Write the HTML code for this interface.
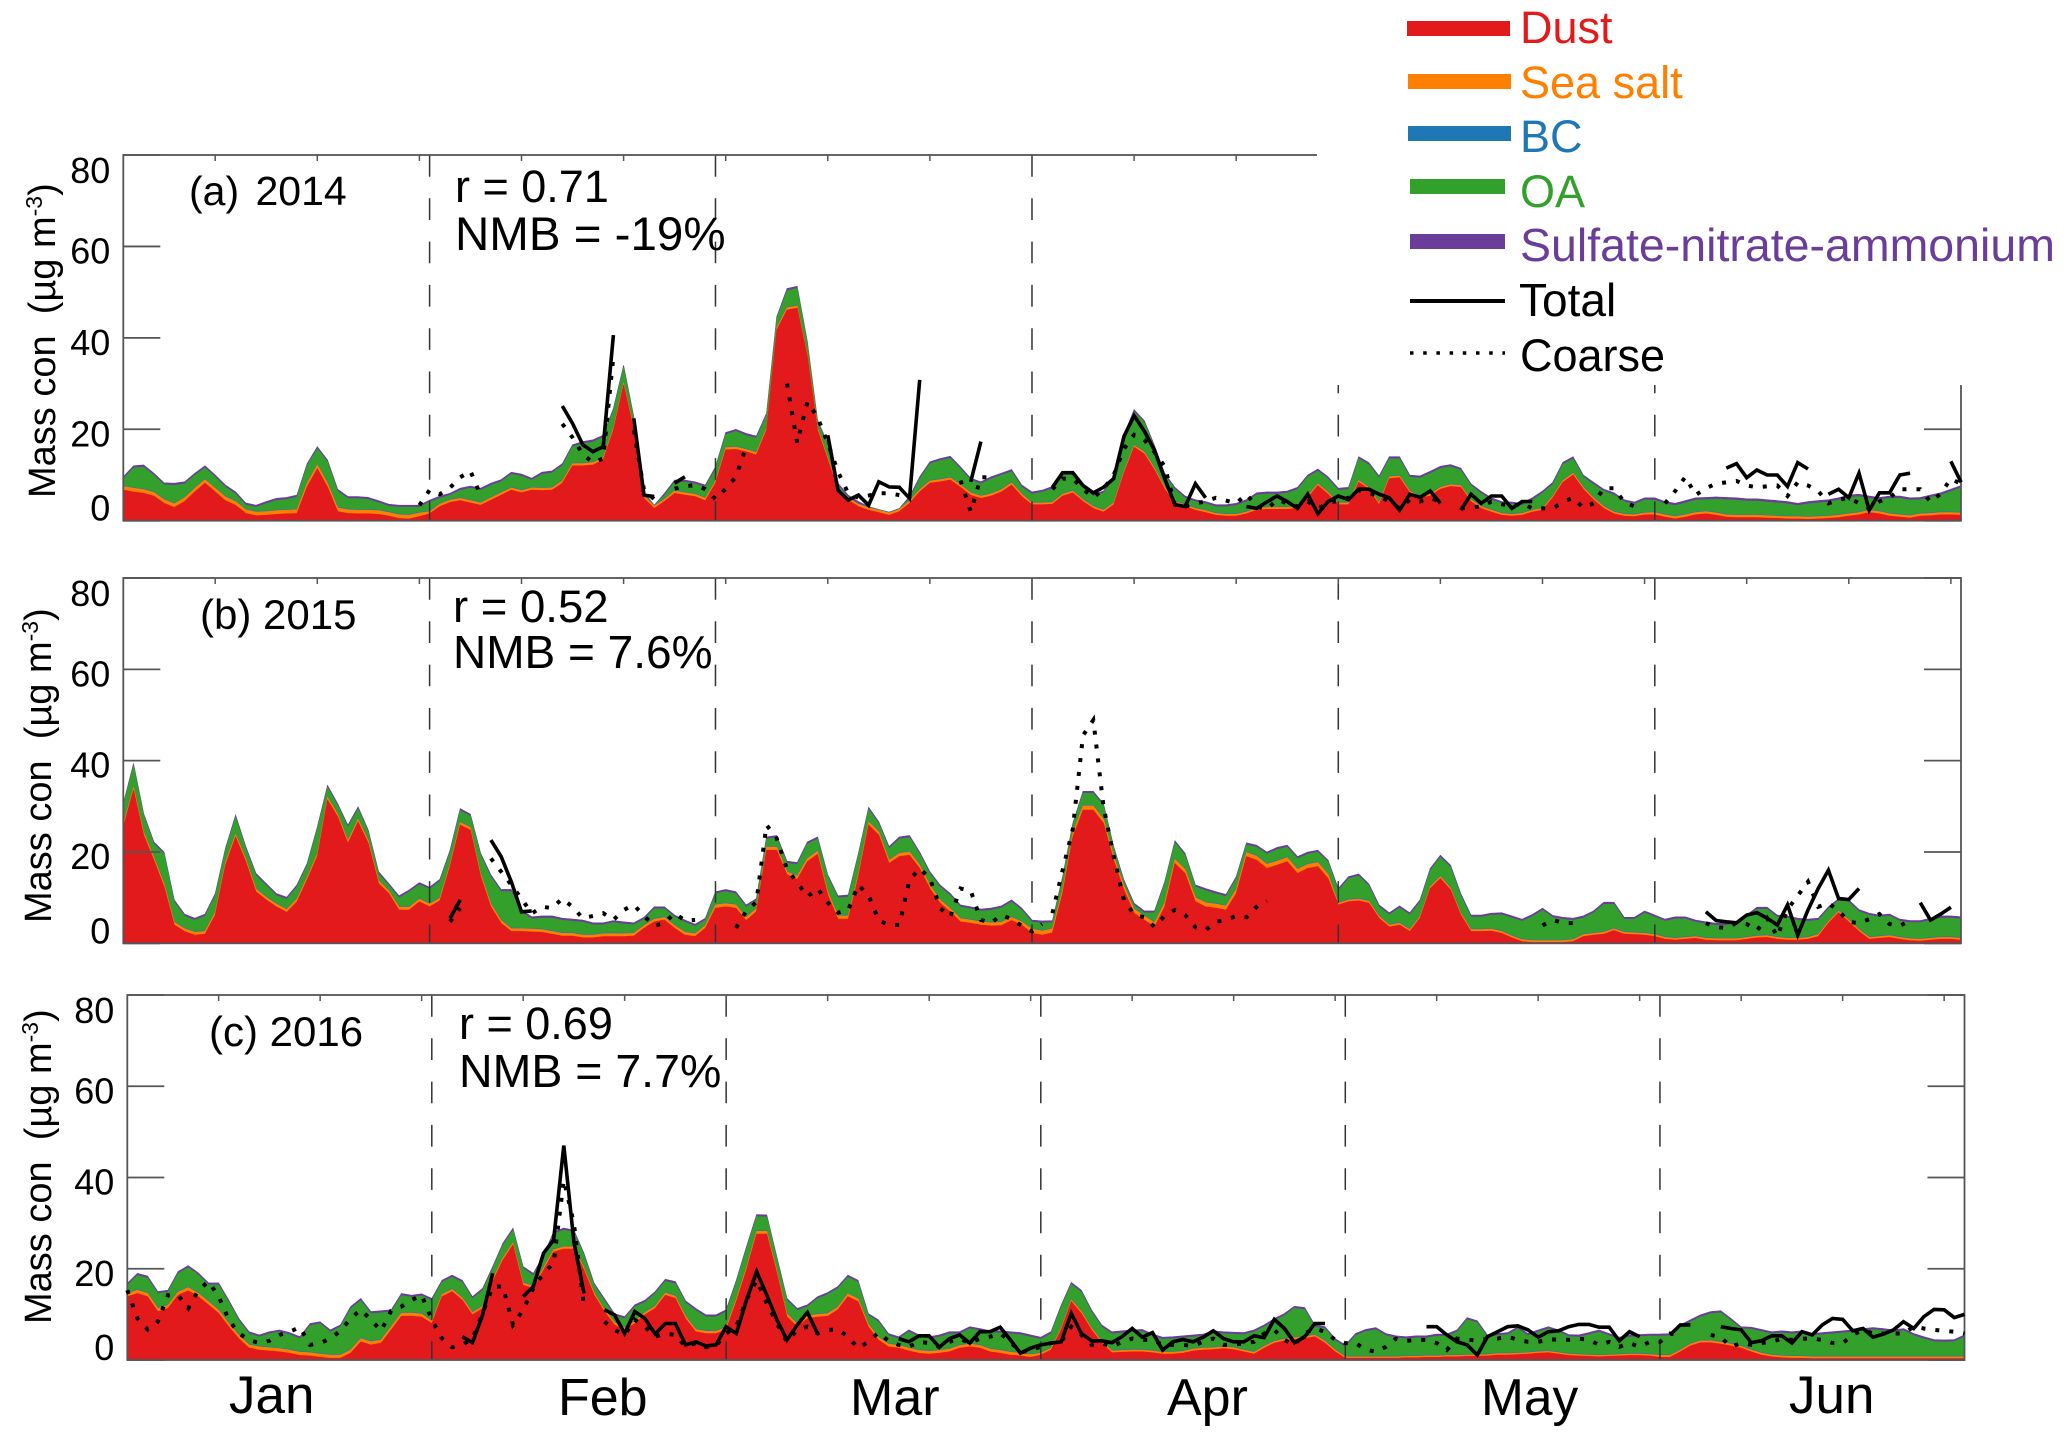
<!DOCTYPE html>
<html lang="en">
<head>
<meta charset="utf-8">
<title>Aerosol mass concentration 2014-2016</title>
<style>
html,body{margin:0;padding:0;background:#fff;}
svg{display:block;}
text{font-family:"Liberation Sans",sans-serif;}
</style>
</head>
<body>
<svg id="chart" xmlns="http://www.w3.org/2000/svg" width="2067" height="1439" viewBox="0 0 2067 1439">
<rect width="2067" height="1439" fill="#fff"/>
<g id="panels"></g>

<g>
<rect x="1317" y="135" width="660" height="250" fill="#fff"/>
<rect x="1407" y="21" width="103" height="15" fill="#e31a1c"/>
<text x="1520" y="43" font-size="45" fill="#e31a1c">Dust</text>
<rect x="1408" y="74" width="103" height="15" fill="#ff7f00"/>
<text x="1520" y="98" font-size="45" fill="#ff7f00">Sea salt</text>
<rect x="1408" y="126" width="103" height="15" fill="#1f78b4"/>
<text x="1520" y="152" font-size="45" fill="#1f78b4">BC</text>
<rect x="1410" y="179" width="95" height="15" fill="#33a02c"/>
<text x="1520" y="207" font-size="45" fill="#33a02c">OA</text>
<rect x="1410" y="234" width="95" height="15" fill="#6a3d9a"/>
<text x="1520" y="261" font-size="46.5" fill="#6a3d9a">Sulfate-nitrate-ammonium</text>
<line x1="1410" x2="1505" y1="301" y2="301" stroke="#000" stroke-width="4"/>
<text x="1519" y="316" font-size="46" fill="#000">Total</text>
<line x1="1410" x2="1505" y1="353" y2="353" stroke="#000" stroke-width="3.5" stroke-dasharray="3.5 9.7"/>
<text x="1520" y="371" font-size="45" fill="#000">Coarse</text>
</g>

<g fill="#000">
<text x="189" y="205" font-size="41">(a)  <tspan dx="5">2014</tspan></text>
<text x="455" y="202" font-size="45">r = 0.71</text>
<text x="455" y="250" font-size="47.5">NMB = -19%</text>
<text x="200" y="629" font-size="42">(b) 2015</text>
<text x="453" y="622" font-size="45.5">r = 0.52</text>
<text x="453" y="668" font-size="46">NMB = 7.6%</text>
<text x="209" y="1046" font-size="42">(c) 2016</text>
<text x="459" y="1039" font-size="45">r = 0.69</text>
<text x="459" y="1087" font-size="46.5">NMB = 7.7%</text>
<text transform="translate(55,498) rotate(-90)" font-size="38" xml:space="preserve">Mass con  (µg m<tspan dy="-13" font-size="23">-3</tspan><tspan dy="13">)</tspan></text>
<text transform="translate(51,923) rotate(-90)" font-size="38" xml:space="preserve">Mass con  (µg m<tspan dy="-13" font-size="23">-3</tspan><tspan dy="13">)</tspan></text>
<text transform="translate(51,1324) rotate(-90)" font-size="38" xml:space="preserve">Mass con  (µg m<tspan dy="-13" font-size="23">-3</tspan><tspan dy="13">)</tspan></text>
<text x="229" y="1413" font-size="53">Jan</text>
<text x="558" y="1415" font-size="52">Feb</text>
<text x="850" y="1415" font-size="52">Mar</text>
<text x="1167" y="1415" font-size="52">Apr</text>
<text x="1481" y="1415" font-size="51.5">May</text>
<text x="1789" y="1413" font-size="53">Jun</text>
</g>
</svg>

<script>
// ---------- shared axis data ----------
const yTickValues = [0, 20, 40, 60, 80];
const yTickLabels = ['0', '20', '40', '60', '80'];
const monthStartDays2014 = [0, 30, 58, 89, 119, 150, 180];
const monthStartDays2015 = [0, 30, 58, 89, 119, 150, 180];
const monthStartDays2016 = [0, 30, 59, 90, 120, 151, 181];
const topTickDays = [9, 19, 29, 39, 49, 59, 69, 79, 89, 99, 109, 119, 129, 139, 149, 159, 169, 179];

// ---------- panel (a) 2014 ----------
const dust2014 = [6.7,6.3,6,5.4,3.8,2.9,4.2,6.3,8.2,6.3,4.4,3.4,1.6,1.1,1.2,1.4,1.5,1.6,7.4,11.4,7.4,2,1.6,1.5,1.5,1.4,1,.5,.4,.9,1.5,
3.1,4,4.4,3.9,3.4,4.5,5.6,6.7,6.1,6.7,6.6,6.7,8.2,12,12,12.2,13.3,19.8,29.7,19.8,4.9,2.7,4.2,6,5.6,5.3,4.4,8.2,15.5,15.6,15.1,14.4,19.8,41.7,46.1,46.5,35.9,19.8,13.3,6.7,4.5,3.1,2.3,1.8,1.2,2,3.8,6.3,8.2,8.5,8.9,7.3,5.6,4.9,5.4,6.3,7.8,5.3,
3.5,3.5,3.6,5.4,6.1,4.2,2.7,1.9,3.5,10.4,16.1,14.6,11.1,6.9,3.8,3.1,2.3,1.8,1.2,1,1,1.5,2.3,2.5,2.5,2.5,2.7,5,7.7,5.8,3.5,3.5,8.4,6.9,3.5,9.2,9.4,6.1,5,5.4,6.9,7.5,7.3,4.2,2.7,1.9,1.2,1,1.2,1.9,2.3,5,8.4,10,6.9,4.6,2.7,1.5,1,.9,1.3,1.3,.8,.4,.8,1.3,1.5,1.2,.8,.7,.7,.7,.6,.5,.4,.4,.3,.4,.5,.7,1,1.3,1.8,1.5,1,.8,.6,1,1.1,1.3,1.3,1.2];
const stackTotal2014 = [9.6,12,12.2,10.4,8.3,8.2,8.5,10.4,12,10,7.8,6.3,3.9,3.4,4.2,4.9,5.1,5.6,12.5,16.2,13.3,6.9,5.3,5.3,5.1,4.4,3.6,3.4,3.4,3.4,4.5,
5.4,6,7.1,7.6,7.1,8.2,9,10.6,10.2,9.3,10.6,10.9,12.5,16.6,17.3,17.7,18.7,24.6,34,22.8,6.3,3.4,6,8.9,8.9,8.5,7.8,11.8,19.3,20,19.1,18.5,23.5,44.6,50.8,51.3,39.2,22,16.9,8.2,5.6,4.2,3.1,2.2,1.8,2.7,5.3,9.6,12.9,13.6,14.1,11.8,9.3,8.5,9.6,10.4,11.2,7.8,
6.3,6.7,7.5,10.5,10.5,7.7,5.8,6.5,9.6,18.8,24.3,21.9,16.5,10.4,7.3,5.4,4.6,4.2,3.5,3.5,3.8,4.6,6.1,6.3,6.3,6.5,7.3,10,11.3,9.6,7.1,7.3,14,12.7,9.8,14,14,10,9.8,10.8,11.9,12.3,11.5,8.1,6.4,5,4.2,4.1,3.8,5,6.5,8.4,12.8,14,10,8.4,6.9,6.1,4.6,4.1,5,5,4.2,3.8,4.4,5,5.1,5.2,5.1,5,4.8,4.8,4.6,4.4,4.2,3.8,4.2,4.4,4.6,5,5.6,5.8,5.4,5.1,5.4,5.4,5,5.1,5.6,6.1,6.9,7.7];
const seaSaltByMonth2014 = [0.8, 0.5, 0.5, 0.4, 0.4, 0.5];
const bcByMonth2014 = [0.15, 0.15, 0.15, 0.15, 0.15, 0.15];
const snaByMonth2014 = [0.45, 0.45, 0.45, 0.45, 0.45, 0.5];
const observedTotalRuns2014 = [
  [43,[25.1,21.3,16.6,15.1,16.2,40.6]],
  [50,[22.4,5.6,5.3]],
  [54,[8.2,9.6]],
  [69,[18.7,6.7,4.5,5.6,3.4,8.5,7.4,7.3,4.9,30.8]],
  [83,[8.5,17.3]],
  [91,[7.3,10.5,10.5,7.7,6.1,7.3,9.2,18.4,23,19.6,15.4,9.2,3.5,3.1,8.1,5]],
  [110,[3.1,2.7,4.1,5.4,4.2,2.7,5.8,1.5,4.2,5.4,4.6,6.9,6.9,5.8,5,2.3,5.8,5.1,6.5,3.8]],
  [131,[2.3,5.8,3.8,5.4,5.4,2.7,4.2,4.2]],
  [157,[11.5,12.5,9.4,11.1,10,10,7.5,12.7,11.3]],
  [167,[5.8,6.9,5,10.4,2.3,6.1,6.1,10,10.4]],
  [179,[13,8.4]]
];
const observedCoarseRuns2014 = [
  [29,[3.4,6.7,5.8,7.2,9.5,10.9,5.5]],
  [43,[21.2,18.2,14.5,12.7,13.6,36]],
  [50,[19.8,6.7,4.7]],
  [54,[7,7.5,7.8,6.9,4.7,7,9.6,16.2]],
  [65,[30,17,26,22.6,17,10.7,6,5,5.5,6,6,5.6]],
  [82,[8.8,2,9.5,9.5]],
  [91,[6.9,9.2,9.2,6.9,5.1,6.9,10,15.7,18.8,17.7,15,11.9,3.5,3.1,3.8,4.2,5,4.4,3.8,5.8,3.1,2.5,4.6,3.8,3.1,4.2,2.7,3.8,4.4,5,6.7,6,5.4,4.2,2.7,4.6,4.2,5,4.1]],
  [131,[2.7,2.9,3.1,4.2,3.6,3.1,3.8,2.7,2.7,2.7,4.1,5,2.8,3.8,7.1,7.1,4.1,3.1]],
  [151,[3.8,6.5,9.6,5.6,7.1,8.1,8.4,8.7,7.7,7.3,7.5,7.7,5.4,8.4,7.7,6.5,3.8,4.6,5,3.8,2.7,4.2,5,6.9,6.9,6.9,4.1,5.9,9.2,8]]
];

// ---------- panel (b) 2015 ----------
const dust2015 = [25.5,33.6,23.7,18.2,12.4,4,2.6,1.8,2,6.2,17.1,23.3,17.9,11.3,9.5,8,6.8,9.1,13.9,19,31.4,27.7,21.9,26.6,21.9,13.1,10.9,7.3,7.3,9.1,8,
9.3,16.8,25.9,24.8,14.6,8,4.4,2.6,2.6,2.5,2.4,2,1.6,1.6,1.2,1.2,1.5,1.5,1.5,1.6,3.3,4.7,5.1,3.3,1.8,1.5,3.3,7.7,8,7.7,5,6.9,20.4,20.4,15,14,17.9,19.5,10.6,5.3,5.3,14.6,25.9,23.7,17.5,19,19.3,16.4,12,8.8,6.9,4.7,4.4,4,3.8,3.9,5,4,
2.2,1.8,2.3,10.9,23.3,29.2,29.2,26.3,18.2,11.7,6.6,5.1,3.6,8,17.5,15.3,9.1,8,7.7,7.3,10.9,19,18.2,16.4,17.1,17.9,15.3,16.4,16.8,14.2,8.4,9.1,9.3,8.8,5.5,3.6,4,2.6,5.5,12,14.2,11.7,6.2,2.6,2.6,2.7,2.2,1.2,.4,.2,.2,.2,.2,.4,1.5,1.8,2,2.8,2,1.9,1.8,1.5,.9,.7,.9,1.1,.7,.6,.6,.6,.9,1.2,1.3,.9,.7,.7,.9,1.5,4.4,6.7,4.7,2.6,.9,1.1,1.3,.9,.6,.5,.7,.9,.9,.7];
const stackTotal2015 = [30.6,39.4,28.4,22.2,20,9.5,6.4,5.5,6.4,10.9,20.8,28.1,21.2,15.3,13.1,10.9,10.1,12.8,17.5,25.5,34.6,30.6,25.9,29.9,24.8,15.7,13.1,10.4,11.7,13.3,12.3,
14,20.4,29.5,28.3,19.7,15,11.8,11.8,7.3,5.8,6,6,5.5,5.3,5.1,4.5,4.5,5,4.7,4.5,5.7,8,8,6.2,5.1,4.2,5.5,11.3,11.8,11.3,8.4,9.8,23.3,23.6,18,17.7,22.2,23.3,15,10.4,10.6,19.7,29.8,26.6,21.2,23.3,23.6,20,15.7,12.8,10.9,8.4,8,7.5,7.7,8.2,9.5,7.7,
5.1,4.9,5,14.6,26.3,33.3,33.3,30.6,21.2,13.9,8.8,7.1,7.1,13.5,22.5,19.7,12.8,12,11.3,10.7,14.6,22,21.5,20,21,21.5,19,20,20.4,18.2,12,14.6,15.2,13,8.4,6.7,8.2,6.7,9.5,16.4,19.3,17.1,10.9,6.2,6.2,6.6,6.7,6,5.3,6.3,7.7,6.1,5.7,5.5,6,7.1,9,9,5.7,5.7,7.1,6.2,5.3,5.8,5.8,5.1,4.7,4.4,4.4,4.7,6.2,7.9,7.9,6.2,6,5.5,5.3,5.5,8,9.8,9.5,7.4,6.6,6.2,6.4,5.3,5,5,5.5,6,6,5.8];
const seaSaltByMonth2015 = [0.6, 0.6, 0.7, 0.9, 0.4, 0.4];
const bcByMonth2015 = [0.15, 0.15, 0.15, 0.15, 0.15, 0.15];
const snaByMonth2015 = [0.45, 0.45, 0.45, 0.45, 0.45, 0.45];
const observedTotalRuns2015 = [
  [32,[5.5,9.5]],
  [36,[22.6,19,13.5,6.9,7.1]],
  [155,[6.9,5,4.7,4.5,6.2,6.7,5.5,4,8.4,1.8,7.3,12,16,9.8,9.6,12]],
  [176,[8.9,5.1,6.4,7.9]]
];
const observedCoarseRuns2015 = [
  [32,[4.7,7.7]],
  [36,[18.6,15.7,12.8,9.8,6.5,8,7.7,9.8,8,5.5,6,6.6,5.1,7.3,8.4,6,3.8,4.5,6.6,5,5.1]],
  [60,[3.4,7,9,25.9,23,16.2,13.3,10.2,12,8.9,6.7,7.3,12.8,10.4,5,4,4,13.9,16.4,14.2,7.7,5.8,12,11.5,5.1,4.5,6.2,5.3,3.8,2.6,4.2]],
  [91,[6.6,16,25,45.5,48.9,30,19,9.5,6.3,5.7,3.6,6,7.3,6.2,3.5,2.9,4.7,5.1,6,5.7,8,9.3]],
  [139,[3.9,5.1,4.5,4.4]],
  [155,[4.4,3.6,3.3,4.5,4.2,2.8,5.5,1.5,7.4,10.4,13.5,8,8.8,7.1,4.7,4.4,5.3,6.4,4.2,3.8,5]]
];

// ---------- panel (c) 2016 ----------
const dust2016 = [13.9,14.6,13.9,10.6,11.3,14.2,15.2,13.9,12.1,10.2,7.3,4.7,2.6,2.2,2,1.8,1.5,1,.9,.6,.4,.4,1.5,4,3.3,3.7,6.6,9.6,9.6,9.4,8,
13.9,15,13.1,9.9,11.3,17.2,21.9,25.2,16.4,15.7,19.7,23.7,24.3,24.3,19.7,14.2,10.6,7.7,6.6,8,9.9,11.3,14.2,13.5,9.1,6.2,5.8,5.8,6.6,12.8,19.7,27.6,27.6,19,9.5,7.3,9.1,9.4,9.6,11,13.9,12.8,7.3,4.4,2.9,2.6,2,1.5,1.3,1.5,1.8,2.6,2.9,2.6,1.8,1.5,1.1,.9,.6,
1.1,2.2,6.6,12.8,10.2,6.6,3.7,1.6,1.7,1.8,1.8,1.6,1.3,1.3,1.5,2,2.2,2.3,2.5,2.3,1.8,1.3,2.6,3.7,4.2,4.5,4.7,5.1,3.7,1.8,.4,.4,.4,.4,.4,.4,.5,.5,.6,.6,.7,.7,.8,.8,.9,1.1,1.1,1.2,1.3,1.5,1.6,1.3,1,.9,.8,.7,.8,.9,1,1,.9,.6,.6,1.8,3.1,3.8,3.8,3.5,3.1,2.6,1.8,1.1,.7,.5,.4,.4,.3,.3,.3,.3,.3,.3,.3,.3,.3,.3,.3,.3,.3,.3,.3,.3];
const stackTotal2016 = [16.8,19,18.4,15,15.3,19.4,20.7,19.1,16.9,16.9,13.1,9.1,6.2,5.5,6.2,6.6,6,5.1,8,8.4,6.6,7.7,11.7,13.5,10.6,10.8,11,14.6,14.2,14.5,13.5,
17.5,18.6,17.5,13.9,15.7,20.5,25.6,28.9,20.5,19,23,28.1,28.9,28.5,23.4,16.8,13.5,10.2,9.5,12.1,13.1,15,17.7,17.2,13,11.3,9.9,9.9,11,17.5,24.8,31.9,31.8,22.6,13.5,11.3,12.1,13.9,14.8,16.1,18.6,17.5,10.2,8.8,5.8,5.1,6.6,5.5,5.1,5.5,6.2,6.2,7.3,6.9,6.4,6.4,6.2,6,5.5,
5,6.2,12,17,15.3,11,7.7,6.2,6.4,6.6,6.7,5.7,5,5.1,5.3,5.5,5.7,6.4,6.2,6.1,6,6.6,7.7,9.1,10.2,11.8,11.5,7.7,7.3,4.7,3.3,5.8,6.7,7.1,5.8,5.3,5.1,5.3,5.3,5.7,5.7,6.6,9.3,8.6,5.5,5.8,6,7.3,5.8,6.6,7.3,6.6,5.6,5.5,6,6.6,5.8,5,5.5,5.6,5.7,5.7,5.8,7.7,8.8,9.9,10.6,10.8,9.1,7.3,7.2,6.7,6.2,6.4,6.2,6.4,5.8,6,6.2,6.4,6.6,6.9,7.1,6.9,6.6,6.9,5.8,5.1,4.5,4.4,4.5,5.5];
const seaSaltByMonth2016 = [0.7, 0.5, 0.6, 0.4, 0.3, 0.4];
const bcByMonth2016 = [0.15, 0.15, 0.15, 0.15, 0.15, 0.15];
const snaByMonth2016 = [0.45, 0.45, 0.45, 0.45, 0.45, 0.45];
const observedTotalRuns2016 = [
  [33,[5.1,3.8,9.9,19]],
  [39,[13.9,16.1,23.4,26.3,47,25.9,14.6]],
  [47,[11,9.9,5.8,10.6,9.1,5.7,8,8,3.3,4,3.1,3.3,7.3,5.8,13.1,19.4,14.2,8.8,4.4,7.7,10.4,5.8]],
  [76,[4.7,4,5.3,5.3,2.8,4.7,5.5,3.7,6.2,6.2,7.2,4.4,1.5,2.6,3.3,3.7,4,10.2,5.8,4.2,4.2,3.8,5.1,6.9,5,6,2.2,4,4.5,4,5,6.4,4.7,4,4,5.3,4.9,8.9,6.9,3.8,5.1,8,8]],
  [128,[7.3,7.3,5.5,4,3.3,1.1,5.1,6.2,7.3,7.5,6.6,5,6.2,6.4,7.3,7.8,7.8,7.2,7.2,4.2,6.2,5.1]],
  [152,[5.5,7.7,7.7]],
  [157,[7.3,6.9,6.6,3.8,4.2,5.3,5.3,3.7,6.2,5.5,7.7,9.1,8.9,6.4,6.9,5,5.7,6.6,8.4,6.9,9.5,11.1,11,9.3,10]]
];
const observedCoarseRuns2016 = [
  [0,[15.3,9.1,6.7,8.4,14.2,14.2,11.3,15.3,17.2,13.9,8.8,5.8,4.4,3.7,4.2,5.5,6.2,7.2,3.3,3.7,4.7,6.4,9.1,11,8.8,6.4,10.8,11.7,13.1,14.2,8.8,4.7,2.8,3.3,4.7,10.2,16.1,16.1,7.7,11,15.7,19,21.2,39.4,29.9,11.7]],
  [47,[8.4,6.6,5.5,8.8,7.3,5.1,5.8,5.5,2.9,3.7,2.8,3.1,5.8,7.3,13.1,17.5,12.4,8,4,6.6,7.3,5.8,6.6,6.7,5.1,2.6,4,6,4.2,3.3,2.9,4,3.7,2.9,4,4.7,3.7,4.7,5.1,5.8,4,1.6,2.2,2.9,3.7,4,7.3,5.5,3.3,3.7,2.9,4,4.7,4.4,4.4,3.3,3.3,3.3,3.1,4,4.7,3.3,3.3,3.7,4,5.8,6.6,4.4,3.3,5.8,6.9,6.2,4.4,3.7,3.7,2.3,1.8,2.9,4.7,4.2,4.4,4.4,3.7,2.2,4.7,4.5,4.2,4.7,4.7,5.1,4.4,4,4,4.5,4.5,4.4,4.7,4.4,3.3,4,2.9,3.7,2.9,4,4,5.8,5.5]],
  [156,[5.5,5,2.9,3.7,3.3,3.7,4,4.7,4.4,4.7,4.7,4.4,3.7,3.7,5.5,6.6,5.8,5.8,5.8,5.8,7.3,6.9,6.6,6.4,6.2,5.8]]
];

// ---------- axis functions ----------
function xScale(panel, day) { return panel.left + day * panel.dayWidth; }
function yScale(panel, value) { return panel.bottom - value * panel.unitHeight; }

const NS = 'http://www.w3.org/2000/svg';
const root = document.getElementById('panels');
const bandColours = { dust: '#e31a1c', salt: '#ff7f00', bc: '#1f78b4', oa: '#33a02c', sna: '#6a3d9a' };

function create(parent, tag, attrs) {
  const node = document.createElementNS(NS, tag);
  Object.keys(attrs).forEach(function (k) { node.setAttribute(k, attrs[k]); });
  parent.appendChild(node);
  return node;
}
function monthIndex(starts, day) {
  let m = 0;
  while (m < 5 && day >= starts[m + 1]) m++;
  return m;
}
function bandPolygon(panel, lower, upper) {
  const pts = [];
  for (let d = 0; d < upper.length; d++) pts.push(xScale(panel, d).toFixed(1) + ',' + yScale(panel, upper[d]).toFixed(1));
  for (let d = lower.length - 1; d >= 0; d--) pts.push(xScale(panel, d).toFixed(1) + ',' + yScale(panel, lower[d]).toFixed(1));
  return pts.join(' ');
}
function runPoints(panel, run) {
  return run[1].map(function (v, i) {
    return xScale(panel, run[0] + i).toFixed(1) + ',' + yScale(panel, v).toFixed(1);
  }).join(' ');
}

function drawPanel(panel) {
  const g = create(root, 'g', {});
  
  

  // stacked bands
  const levels = { base: [], dust: [], salt: [], bc: [], oa: [], sna: [] };
  panel.dust.forEach(function (dv, d) {
    const m = monthIndex(panel.months, d);
    const total = panel.total[d];
    const s = dv + panel.salt[m];
    const b = s + panel.bc[m];
    const o = Math.max(b, total - panel.sna[m]);
    levels.base.push(0);
    levels.dust.push(dv);
    levels.salt.push(s);
    levels.bc.push(b);
    levels.oa.push(o);
    levels.sna.push(Math.max(o, total));
  });
  const bandOrder = [['sna', 'oa'], ['oa', 'bc'], ['bc', 'salt'], ['salt', 'dust'], ['dust', 'base']];
  bandOrder.forEach(function (pair) {
    const poly = create(g, 'polygon', {
      points: bandPolygon(panel, levels[pair[1]], levels[pair[0]]),
      fill: bandColours[pair[0]],
      stroke: bandColours[pair[0]],
      'stroke-width': 0.6
    });
    
    
  });

  // month dividers
  panel.months.slice(1, 6).forEach(function (day) {
    const line = create(g, 'line', {
      x1: xScale(panel, day), x2: xScale(panel, day),
      y1: panel.top, y2: panel.bottom,
      stroke: '#333', 'stroke-width': 1.5, 'stroke-dasharray': '21.7 21.6'
    });
    
    
  });

  // frame
  const frame = create(g, 'rect', {
    x: panel.left, y: panel.top,
    width: panel.right - panel.left, height: panel.bottom - panel.top,
    fill: 'none', stroke: '#555', 'stroke-width': 1.8
  });
  
  

  // y ticks and labels
  yTickValues.forEach(function (v, i) {
    const y = yScale(panel, v);
    [[panel.left, panel.left + 37], [panel.right - 37, panel.right]].forEach(function (ends) {
      const tick = create(g, 'line', { x1: ends[0], x2: ends[1], y1: y, y2: y, stroke: '#555', 'stroke-width': 1.8 });
      
      
    });
    const shift = v === 80 ? 28 : v === 0 ? 0 : 17;
    const label = create(g, 'text', { x: panel.left - 13, y: y + shift, 'font-size': 36, 'text-anchor': 'end', fill: '#000' });
    label.textContent = yTickLabels[i];
    
    
  });

  // top minor ticks
  topTickDays.forEach(function (day) {
    const tick = create(g, 'line', {
      x1: xScale(panel, day), x2: xScale(panel, day),
      y1: panel.top, y2: panel.top + 6, stroke: '#555', 'stroke-width': 1.5
    });
    
    
  });

  // observations
  panel.coarse.forEach(function (run) {
    const line = create(g, 'polyline', {
      points: runPoints(panel, run), fill: 'none', stroke: '#000',
      'stroke-width': 4, 'stroke-dasharray': '4 10'
    });
    
    
  });
  panel.observed.forEach(function (run) {
    const line = create(g, 'polyline', {
      points: runPoints(panel, run), fill: 'none', stroke: '#000', 'stroke-width': 3.6
    });
    
    
  });
}

[
  { key: 'a-2014', left: 123.3, right: 1961, top: 155, bottom: 520.7, dayWidth: 10.21, unitHeight: 4.571, months: monthStartDays2014,
    dust: dust2014, total: stackTotal2014, salt: seaSaltByMonth2014, bc: bcByMonth2014, sna: snaByMonth2014, observed: observedTotalRuns2014, coarse: observedCoarseRuns2014 },
  { key: 'b-2015', left: 123.3, right: 1961, top: 578, bottom: 943.3, dayWidth: 10.21, unitHeight: 4.566, months: monthStartDays2015,
    dust: dust2015, total: stackTotal2015, salt: seaSaltByMonth2015, bc: bcByMonth2015, sna: snaByMonth2015, observed: observedTotalRuns2015, coarse: observedCoarseRuns2015 },
  { key: 'c-2016', left: 127.3, right: 1964.5, top: 995, bottom: 1360, dayWidth: 10.15, unitHeight: 4.5625, months: monthStartDays2016,
    dust: dust2016, total: stackTotal2016, salt: seaSaltByMonth2016, bc: bcByMonth2016, sna: snaByMonth2016, observed: observedTotalRuns2016, coarse: observedCoarseRuns2016 }
].forEach(drawPanel);
</script>
</body>
</html>
